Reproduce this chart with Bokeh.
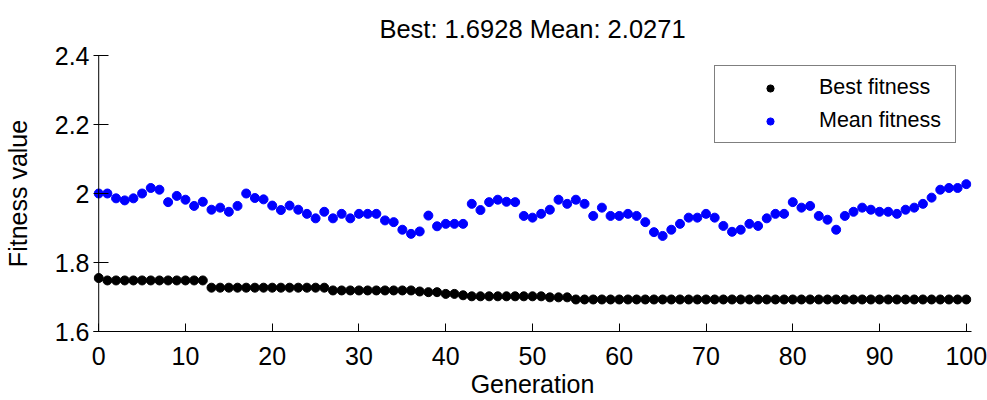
from bokeh.plotting import figure
from bokeh.models import Range1d, Span, Legend, LegendItem, ColumnDataSource, FixedTicker
from bokeh.embed import file_html
from bokeh.resources import INLINE

title_text = "Best: 1.6928 Mean: 2.0271"
x_label = "Generation"
y_label = "Fitness value"

generations = list(range(0, 101))

best_fitness = [
    1.755,
    1.748, 1.748, 1.748, 1.748, 1.748, 1.748, 1.748, 1.748, 1.748, 1.748, 1.748, 1.748,
    1.727, 1.727, 1.727, 1.727, 1.727, 1.727, 1.727, 1.727, 1.727, 1.727, 1.727, 1.727, 1.727, 1.727,
    1.719, 1.719, 1.719, 1.719, 1.719, 1.719, 1.719, 1.719, 1.719, 1.719,
    1.716, 1.714, 1.714, 1.709, 1.709, 1.705,
    1.702, 1.702, 1.702, 1.702, 1.702, 1.702, 1.702, 1.702, 1.702,
    1.699, 1.699, 1.699,
    1.6928, 1.6928, 1.6928, 1.6928, 1.6928, 1.6928, 1.6928, 1.6928, 1.6928, 1.6928,
    1.6928, 1.6928, 1.6928, 1.6928, 1.6928, 1.6928, 1.6928, 1.6928, 1.6928, 1.6928,
    1.6928, 1.6928, 1.6928, 1.6928, 1.6928, 1.6928, 1.6928, 1.6928, 1.6928, 1.6928,
    1.6928, 1.6928, 1.6928, 1.6928, 1.6928, 1.6928, 1.6928, 1.6928, 1.6928, 1.6928,
    1.6928, 1.6928, 1.6928, 1.6928, 1.6928, 1.6928,
]

mean_fitness = [
    2.000, 2.000, 1.986, 1.980, 1.986, 2.000, 2.016, 2.011, 1.975, 1.993,
    1.982, 1.964, 1.976, 1.953, 1.959, 1.947, 1.964, 2.000, 1.987, 1.983,
    1.965, 1.952, 1.965, 1.953, 1.941, 1.928, 1.947, 1.928, 1.941, 1.928,
    1.941, 1.941, 1.941, 1.922, 1.917, 1.895, 1.883, 1.890, 1.936, 1.905,
    1.912, 1.912, 1.912, 1.970, 1.952, 1.975, 1.982, 1.976, 1.975, 1.935,
    1.930, 1.941, 1.953, 1.982, 1.970, 1.982, 1.970, 1.935, 1.959, 1.935,
    1.935, 1.941, 1.935, 1.917, 1.888, 1.877, 1.895, 1.912, 1.930, 1.930,
    1.941, 1.930, 1.906, 1.889, 1.895, 1.912, 1.906, 1.928, 1.941, 1.941,
    1.975, 1.959, 1.964, 1.935, 1.924, 1.895, 1.935, 1.947, 1.959, 1.953,
    1.947, 1.947, 1.941, 1.953, 1.959, 1.970, 1.988, 2.011, 2.016, 2.016,
    2.0271,
]

x_ticks = [0, 10, 20, 30, 40, 50, 60, 70, 80, 90, 100]
y_ticks = [1.6, 1.8, 2.0, 2.2, 2.4]
y_tick_labels = ["1.6", "1.8", "2", "2.2", "2.4"]

FONT = "Liberation Sans"

src = ColumnDataSource(dict(gen=generations, best=best_fitness, mean=mean_fitness))

p = figure(width=987, height=400, output_backend="svg", toolbar_location=None,
           x_range=Range1d(-0.6, 100.6), y_range=Range1d(1.6, 2.4),
           min_border_left=92, min_border_right=16, min_border_top=55, min_border_bottom=69,
           title=title_text)

p.background_fill_color = "white"
p.border_fill_color = "white"
p.outline_line_color = None
p.xgrid.visible = False
p.ygrid.visible = False

p.title.align = "center"
p.title.text_font = FONT
p.title.text_font_size = "25.5px"
p.title.text_font_style = "normal"
p.title.text_color = "black"
p.title.standoff = 25

# x axis
p.xaxis.ticker = FixedTicker(ticks=x_ticks)
p.xaxis.axis_label = x_label
p.xaxis.axis_label_text_font = FONT
p.xaxis.axis_label_text_font_size = "25px"
p.xaxis.axis_label_text_font_style = "normal"
p.xaxis.axis_label_text_color = "black"
p.xaxis.axis_label_standoff = 2
p.xaxis.major_label_text_font = FONT
p.xaxis.major_label_text_font_size = "25px"
p.xaxis.major_label_standoff = 15
p.xaxis.major_tick_in = 8
p.xaxis.major_tick_out = 0
p.xaxis.minor_tick_line_color = None
p.xaxis.axis_line_color = "black"
p.xaxis.major_tick_line_color = "black"
p.xaxis.major_label_text_color = "black"

# y axis
p.yaxis.ticker = FixedTicker(ticks=y_ticks)
p.yaxis.major_label_overrides = {v: s for v, s in zip(y_ticks, y_tick_labels)}
p.yaxis.axis_label = y_label
p.yaxis.axis_label_text_font = FONT
p.yaxis.axis_label_text_font_size = "25px"
p.yaxis.axis_label_text_font_style = "normal"
p.yaxis.axis_label_text_color = "black"
p.yaxis.axis_label_standoff = 20
p.yaxis.major_label_text_font = FONT
p.yaxis.major_label_text_font_size = "25px"
p.yaxis.major_label_standoff = 4
p.yaxis.major_tick_in = 15
p.yaxis.major_tick_out = 0
p.yaxis.minor_tick_line_color = None
p.yaxis.axis_line_color = None
p.yaxis.major_tick_line_color = "black"
p.yaxis.major_label_text_color = "black"

p.add_layout(Span(location=0, dimension="height", line_color="black", line_width=1))

r_best = p.scatter("gen", "best", source=src, size=9, color="black")
r_mean = p.scatter("gen", "mean", source=src, size=9, color="#0000ff")

legend = Legend(items=[LegendItem(label="Best fitness", renderers=[r_best]),
                       LegendItem(label="Mean fitness", renderers=[r_mean])],
                location=(621, 188))
legend.border_line_color = "black"
legend.border_line_width = 1
legend.background_fill_color = "white"
legend.background_fill_alpha = 1
legend.padding = 9
legend.margin = 0
legend.spacing = 8
legend.glyph_width = 92
legend.glyph_height = 18
legend.label_standoff = 3
legend.label_height = 18
legend.label_width = 127
legend.label_text_font = FONT
legend.label_text_font_size = "21.5px"
legend.label_text_color = "black"
p.add_layout(legend)

open("out.html", "w").write(file_html(p, INLINE))
